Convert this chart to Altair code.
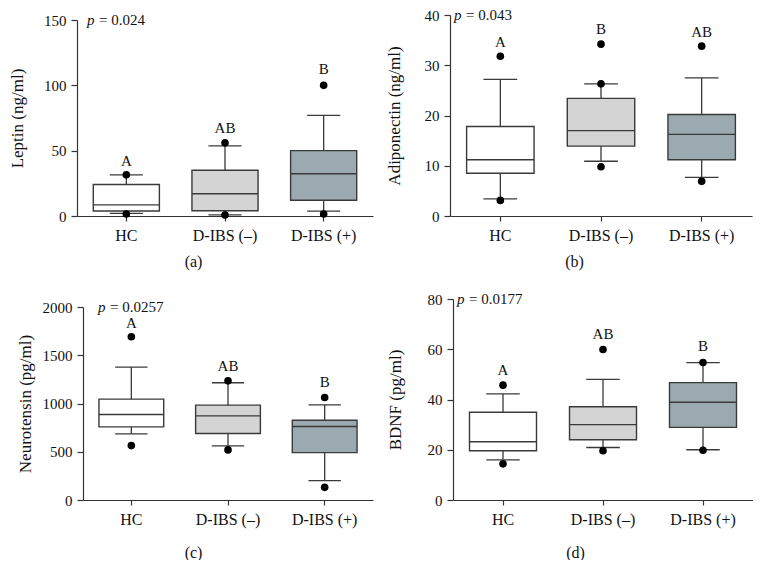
import altair as alt
import pandas as pd

groups = ["HC", "D-IBS (–)", "D-IBS (+)"]
fills = ["#ffffff", "#d4d4d4", "#9baab1"]
panel_tags = ["(a)", "(b)", "(c)", "(d)"]
y_titles = ["Leptin (ng/ml)", "Adiponectin (ng/ml)", "Neurotensin (pg/ml)", "BDNF (pg/ml)"]
p_values = ["0.024", "0.043", "0.0257", "0.0177"]
y_ticks = [[0, 50, 100, 150], [0, 10, 20, 30, 40], [0, 500, 1000, 1500, 2000], [0, 20, 40, 60, 80]]

# (a) Leptin
leptin_q1 = [3.8, 4.0, 12.0]
leptin_med = [8.5, 17.0, 32.3]
leptin_q3 = [24.1, 35.0, 50.0]
leptin_lo = [2.0, 0.8, 3.8]
leptin_hi = [31.5, 53.6, 77.0]
leptin_dots = [[31.5, 1.5], [56.0, 0.8], [100.0, 1.5]]
leptin_letters = ["A", "AB", "B"]
leptin_letter_y = [41.8, 67.0, 112.6]

# (b) Adiponectin
adipo_q1 = [8.5, 13.9, 11.2]
adipo_med = [11.2, 17.0, 16.25]
adipo_q3 = [17.8, 23.4, 20.2]
adipo_lo = [3.4, 10.9, 7.7]
adipo_hi = [27.2, 26.3, 27.5]
adipo_dots = [[31.8, 3.1], [34.2, 26.3, 9.8], [33.8, 6.9]]
adipo_letters = ["A", "B", "AB"]
adipo_letter_y = [34.7, 37.2, 36.7]

# (c) Neurotensin
neuro_q1 = [758, 689, 491]
neuro_med = [886, 872, 761]
neuro_q3 = [1045, 983, 827]
neuro_lo = [685, 561, 201]
neuro_hi = [1377, 1215, 986]
neuro_dots = [[1692, 564], [1235, 519], [1062, 131]]
neuro_letters = ["A", "AB", "B"]
neuro_letter_y = [1834, 1384, 1221]

# (d) BDNF
bdnf_q1 = [19.6, 24.0, 28.9]
bdnf_med = [23.2, 30.0, 38.9]
bdnf_q3 = [34.9, 37.1, 46.7]
bdnf_lo = [16.0, 20.9, 20.0]
bdnf_hi = [42.2, 48.0, 54.7]
bdnf_dots = [[45.7, 14.4], [59.9, 19.6], [54.7, 19.8]]
bdnf_letters = ["A", "AB", "B"]
bdnf_letter_y = [51.8, 66.0, 61.1]

FONT = "Liberation Serif"
STROKE = "#3a3a3a"


def panel(i, q1, med, q3, lo, hi, dots, letters, letter_y,
          W, H, r0, x0, p_x, tag_x, tag_y, y_ext, y_pad):
    ymax = y_ticks[i][-1]
    base = pd.DataFrame({"g": groups, "q1": q1, "med": med, "q3": q3,
                         "lo": lo, "hi": hi, "letter": letters, "ly": letter_y})
    dots_df = pd.DataFrame([(g, v) for g, vals in zip(groups, dots) for v in vals],
                           columns=["g", "v"])
    p_df = pd.DataFrame({"p": ["p"], "eq": ["= " + p_values[i]]})

    bw = 0.67 * (W - x0) / 3.0
    if x0 > 0:
        xsc = alt.Scale(domain=groups, paddingInner=0, paddingOuter=0, range=[x0, W])
    else:
        xsc = alt.Scale(domain=groups, paddingInner=0, paddingOuter=0)
    ysc = alt.Scale(domain=[0, ymax], range=[H, r0], nice=False)
    xax = alt.Axis(title=panel_tags[i], labelAngle=0, tickSize=5, labelPadding=6,
                   minExtent=27, maxExtent=27, titleX=tag_x, titleY=tag_y,
                   titleAlign="center", titleBaseline="top",
                   titleFontSize=16, titleFontWeight="normal")
    yax = alt.Axis(title=y_titles[i], values=y_ticks[i], format="d", tickSize=6,
                   labelPadding=5, minExtent=y_ext, maxExtent=y_ext,
                   titlePadding=y_pad, grid=False, offset=-x0)

    def X():
        return alt.X("g:N", sort=groups, scale=xsc, axis=xax)

    def Y(f):
        return alt.Y(f, type="quantitative", scale=ysc, axis=yax)

    whisk = alt.Chart(base).mark_rule(color=STROKE, strokeWidth=1.3).encode(
        x=X(), y=Y("lo"), y2=alt.Y2("hi"))
    box = alt.Chart(base).mark_bar(width=alt.RelativeBandSize(0.67), stroke=STROKE,
                                   strokeWidth=1.4).encode(
        x=X(), y=Y("q1"), y2=alt.Y2("q3"),
        fill=alt.Fill("g:N", scale=alt.Scale(domain=groups, range=fills), legend=None))
    medt = alt.Chart(base).mark_tick(orient="horizontal", size=bw, thickness=1.4,
                                     color=STROKE, opacity=1).encode(x=X(), y=Y("med"))
    caph = alt.Chart(base).mark_tick(orient="horizontal", size=bw / 2, thickness=1.3,
                                     color=STROKE, opacity=1).encode(x=X(), y=Y("hi"))
    capl = alt.Chart(base).mark_tick(orient="horizontal", size=bw / 2, thickness=1.3,
                                     color=STROKE, opacity=1).encode(x=X(), y=Y("lo"))
    pts = alt.Chart(dots_df).mark_circle(size=58, color="black", opacity=1).encode(
        x=X(), y=Y("v"))
    lets = alt.Chart(base).mark_text(fontSize=15, baseline="middle", color="#111").encode(
        x=X(), y=Y("ly"), text="letter:N")
    p1 = alt.Chart(p_df).mark_text(fontSize=15, fontStyle="italic", align="left",
                                   baseline="middle", color="#111").encode(
        x=alt.value(x0 + p_x), y=alt.datum(ymax), text="p:N")
    p2 = alt.Chart(p_df).mark_text(fontSize=15, align="left", baseline="middle",
                                   color="#111").encode(
        x=alt.value(x0 + p_x + 12), y=alt.datum(ymax), text="eq:N")
    return alt.layer(whisk, box, medt, caph, capl, pts, lets, p1, p2).properties(
        width=W, height=H)


pa = panel(0, leptin_q1, leptin_med, leptin_q3, leptin_lo, leptin_hi, leptin_dots,
           leptin_letters, leptin_letter_y, W=296, H=201, r0=5, x0=0, p_x=10,
           tag_x=116, tag_y=37, y_ext=32, y_pad=19)
pb = panel(1, adipo_q1, adipo_med, adipo_q3, adipo_lo, adipo_hi, adipo_dots,
           adipo_letters, adipo_letter_y, W=302, H=201, r0=0, x0=0, p_x=4,
           tag_x=124, tag_y=37, y_ext=24, y_pad=23)
pc = panel(2, neuro_q1, neuro_med, neuro_q3, neuro_lo, neuro_hi, neuro_dots,
           neuro_letters, neuro_letter_y, W=296, H=201, r0=8, x0=6, p_x=15,
           tag_x=116, tag_y=44, y_ext=41, y_pad=8)
pd_ = panel(3, bdnf_q1, bdnf_med, bdnf_q3, bdnf_lo, bdnf_hi, bdnf_dots,
            bdnf_letters, bdnf_letter_y, W=300, H=201, r0=0, x0=0, p_x=4,
            tag_x=122, tag_y=44, y_ext=24, y_pad=25)

row1 = alt.hconcat(pa, pb, spacing=12)
row2 = alt.hconcat(pc, pd_, spacing=13)

chart = alt.vconcat(row1, row2, spacing=23).properties(
    padding={"left": 0, "top": 0, "right": 0, "bottom": 0}
).configure_view(strokeWidth=0).configure_axis(
    labelFont=FONT, titleFont=FONT, domainColor="#333333", tickColor="#333333",
    labelColor="#111111", titleColor="#111111", domainWidth=1.2, tickWidth=1.2
).configure_axisX(labelFontSize=16).configure_axisY(
    labelFontSize=15, titleFontSize=17, titleFontWeight="normal"
).configure_text(font=FONT)

chart.save("out.html", embed_options={"renderer": "svg", "actions": False})
